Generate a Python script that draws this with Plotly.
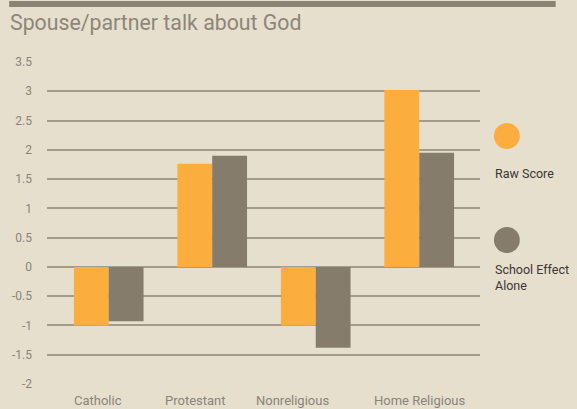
import plotly.graph_objects as go

# ---- data ----
categories = ["Catholic", "Protestant", "Nonreligious", "Home Religious"]
raw_score = [-1.0, 1.76, -1.0, 3.02]
school_effect = [-0.93, 1.90, -1.38, 1.95]
series_names = ["Raw Score", "School Effect<br>Alone"]
y_ticks = [-2, -1.5, -1, -0.5, 0, 0.5, 1, 1.5, 2, 2.5, 3, 3.5]
y_tick_text = ["-2", "-1.5", "-1", "-0.5", "0", "0.5", "1", "1.5", "2", "2.5", "3", "3.5"]
title_text = "Spouse/partner talk about God"

# ---- style ----
W, H = 577, 409
ML, MR, MT, MB = 45, 97, 62, 25
ORANGE = "#FBAE3E"
GREY = "#857C6C"
BG = "#E6DFCE"
GRID = "#A39B8B"
TICK = "#8A8478"
LABEL_SHIFTS = [-11, -17, -23, 0]

def px_x(px):
    return (px - ML) / (W - ML - MR)

def px_y(py):
    return 1 - (py - MT) / (H - MT - MB)

fig = go.Figure()
fig.add_trace(go.Bar(x=categories, y=raw_score, name=series_names[0],
                     marker=dict(color=ORANGE, line=dict(width=0))))
fig.add_trace(go.Bar(x=categories, y=school_effect, name=series_names[1],
                     marker=dict(color=GREY, line=dict(width=0))))

annotations = []
for i, c in enumerate(categories):
    annotations.append(dict(x=c, xref="x", y=0, yref="paper", text=c,
                            showarrow=False, yanchor="middle", yshift=-16,
                            xshift=LABEL_SHIFTS[i],
                            font=dict(family="Roboto", size=13, color=TICK)))

# legend (custom)
leg_colors = [ORANGE, GREY]
leg_circle_y = [136, 240]
leg_text_y = [173, 277]
shapes = []
for col, cy, ty, name in zip(leg_colors, leg_circle_y, leg_text_y, series_names):
    shapes.append(dict(type="circle", xref="paper", yref="paper",
                       x0=px_x(494), x1=px_x(520), y0=px_y(cy + 13), y1=px_y(cy - 13),
                       fillcolor=col, line=dict(width=0)))
    annotations.append(dict(x=px_x(493), xref="paper", y=px_y(ty), yref="paper",
                            text=name, showarrow=False, xanchor="left", yanchor="middle",
                            align="left",
                            font=dict(family="Roboto", size=12.5, color="#3A3833")))

# top bar
shapes.append(dict(type="rect", xref="paper", yref="paper",
                   x0=px_x(7), x1=px_x(556), y0=px_y(7), y1=px_y(1),
                   fillcolor="#8A8272", line=dict(width=0)))

annotations.append(dict(x=px_x(6), xref="paper", y=px_y(23), yref="paper",
                        text=title_text, showarrow=False, xanchor="left", yanchor="middle",
                        font=dict(family="Roboto", size=21.3, color="#8D8678")))

fig.update_layout(
    width=W, height=H,
    margin=dict(l=ML, r=MR, t=MT, b=MB),
    paper_bgcolor=BG, plot_bgcolor=BG,
    barmode="group", bargap=0.327, bargroupgap=0,
    showlegend=False,
    shapes=shapes, annotations=annotations,
    xaxis=dict(range=[-0.596, 3.587], showticklabels=False, showgrid=False,
               zeroline=False, showline=False, ticks=""),
    yaxis=dict(range=[-2, 3.5], tickvals=y_ticks, ticktext=y_tick_text,
               showgrid=True, gridcolor=GRID, gridwidth=1.5,
               zeroline=True, zerolinecolor=GRID, zerolinewidth=1.5,
               showline=False, ticks="", ticklabelstandoff=14,
               tickfont=dict(family="Roboto", size=12, color=TICK)),
)

fig.write_html("out.html", config={"displayModeBar": False},
               post_script="document.body.style.margin='0';document.body.style.overflow='hidden';")
